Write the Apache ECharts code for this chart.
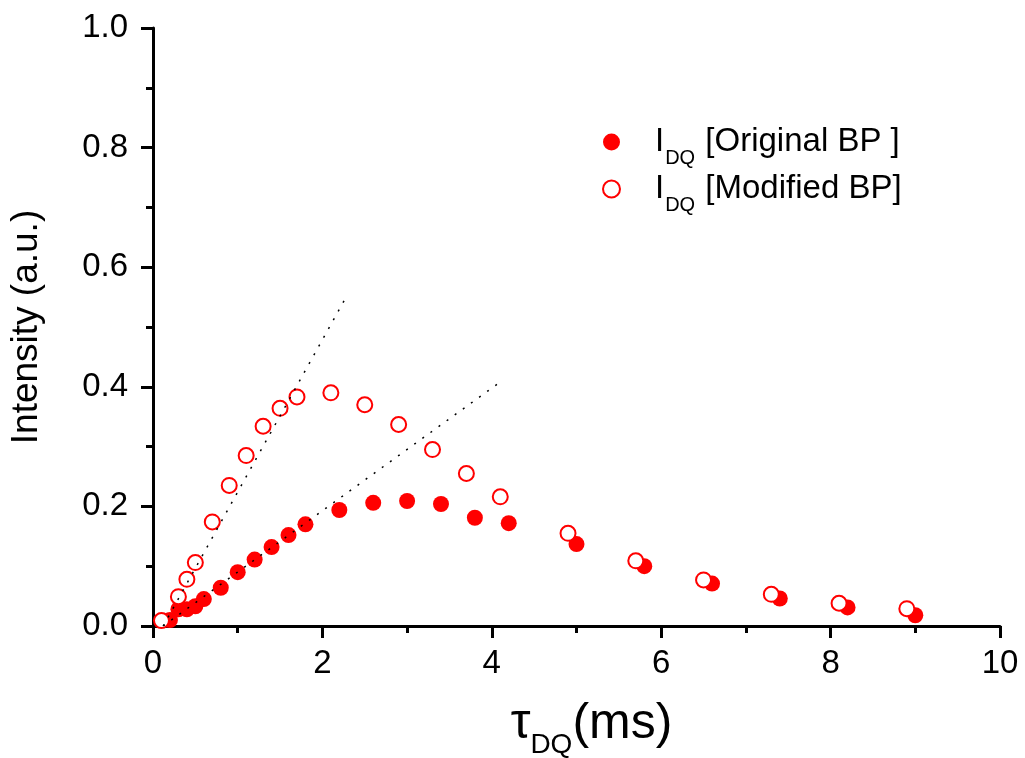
<!DOCTYPE html>
<html>
<head>
<meta charset="utf-8">
<script src="https://cdn.jsdelivr.net/npm/echarts@6/dist/echarts.min.js"></script>
<style>
html,body{margin:0;padding:0;background:#fff;}
#chart{width:1025px;height:758px;}
</style>
</head>
<body>
<div id="chart"></div>
<script>
// Data
var filledX = [0.2,0.3,0.4,0.5,0.6,0.8,1.0,1.2,1.4,1.6,1.8,2.2,2.6,3.0,3.4,3.8,4.2,5.0,5.8,6.6,7.4,8.2,9.0];
var filledY = [0.010,0.028,0.028,0.033,0.045,0.064,0.090,0.111,0.132,0.152,0.170,0.194,0.206,0.209,0.204,0.181,0.172,0.137,0.100,0.071,0.046,0.031,0.018];
var openX = [0.1,0.3,0.4,0.5,0.7,0.9,1.1,1.3,1.5,1.7,2.1,2.5,2.9,3.3,3.7,4.1,4.9,5.7,6.5,7.3,8.1,8.9];
var openY = [0.009,0.049,0.078,0.106,0.174,0.235,0.285,0.334,0.364,0.383,0.390,0.370,0.337,0.295,0.255,0.216,0.155,0.109,0.077,0.053,0.038,0.029];
var fit1X = [0.12, 2.28];
var fit1Y = [0.0, 0.55];
var fit2X = [0.12, 4.07];
var fit2Y = [0.0, 0.405];
var seriesNames = ['I_DQ [Original BP ]', 'I_DQ [Modified BP]'];
var xTitle = {tau: 'τ', sub: 'DQ', unit: '(ms)'};
var yTitle = 'Intensity (a.u.)';

function zip(xs, ys){ return xs.map(function(x,i){ return [x, ys[i]]; }); }

var FONT = 'Arial, "Liberation Sans", Helvetica, sans-serif';
var chart = echarts.init(document.getElementById('chart'));
var axisCommon = {
  axisLine: {show: true, onZero: false, lineStyle: {color: '#000', width: 3}},
  axisTick: {show: true, inside: false, length: 12, lineStyle: {color: '#000', width: 3}},
  minorTick: {show: true, splitNumber: 2, length: 7, lineStyle: {color: '#000', width: 3}},
  splitLine: {show: false},
  minorSplitLine: {show: false}
};
var option = {
  backgroundColor: '#fff',
  animation: false,
  grid: {left: 153, right: 25, top: 28, bottom: 132, containLabel: false, outerBoundsMode: 'none'},
  legend: {
    orient: 'vertical',
    left: 597,
    top: 120,
    itemGap: 4,
    itemWidth: 17,
    itemHeight: 17,
    data: [
      {name: seriesNames[0], icon: 'circle'},
      {name: seriesNames[1], icon: 'circle'}
    ],
    formatter: function(name){
      var rest = name.replace('I_DQ ', '');
      return '{m|I}{s|DQ}{m| ' + rest + '}';
    },
    textStyle: {
      padding: [0,0,0,30],
      rich: {
        m: {fontFamily: FONT, fontSize: 33, color: '#000', lineHeight: 34, verticalAlign: 'top'},
        s: {fontFamily: FONT, fontSize: 20, color: '#000', lineHeight: 20, verticalAlign: 'top', padding: [23,1,0,1]}
      }
    }
  },
  xAxis: Object.assign({
    type: 'value', min: 0, max: 10, interval: 2,
    axisLabel: {fontFamily: FONT, fontSize: 33, color: '#000', margin: 21},
    name: '{t|' + xTitle.tau + '}{s|' + xTitle.sub + '}{m|' + xTitle.unit + '}',
    nameLocation: 'middle',
    nameGap: 73,
    nameTextStyle: {
      padding: [0,0,0,30],
      rich: {
        t: {fontFamily: FONT, fontSize: 50, color: '#000', lineHeight: 52, verticalAlign: 'top'},
        s: {fontFamily: FONT, fontSize: 28, color: '#000', lineHeight: 28, verticalAlign: 'top', padding: [32,0,0,0]},
        m: {fontFamily: FONT, fontSize: 50, color: '#000', lineHeight: 52, verticalAlign: 'top'}
      }
    }
  }, axisCommon),
  yAxis: Object.assign({
    type: 'value', min: 0, max: 1, interval: 0.2,
    axisLabel: {fontFamily: FONT, fontSize: 33, color: '#000', margin: 25,
      formatter: function(v){ return v.toFixed(1); }},
    name: yTitle,
    nameLocation: 'middle',
    nameRotate: 90,
    nameGap: 108,
    nameTextStyle: {fontFamily: FONT, fontSize: 37, color: '#000'}
  }, axisCommon),
  series: [
    {
      name: seriesNames[0], type: 'scatter', symbol: 'circle', symbolSize: 16,
      itemStyle: {color: '#ff0000', opacity: 1},
      data: zip(filledX, filledY), z: 2
    },
    {
      name: seriesNames[1], type: 'scatter', symbol: 'circle', symbolSize: 15,
      itemStyle: {color: '#ffffff', borderColor: '#ff0000', borderWidth: 2, opacity: 1},
      data: zip(openX, openY), z: 3
    },
    {
      type: 'line', data: zip(fit1X, fit1Y), showSymbol: false, symbol: 'none', z: 4,
      lineStyle: {color: '#000', width: 1.5, type: [2, 8]}, silent: true
    },
    {
      type: 'line', data: zip(fit2X, fit2Y), showSymbol: false, symbol: 'none', z: 4,
      lineStyle: {color: '#000', width: 1.5, type: [2, 8]}, silent: true
    }
  ]
};
chart.setOption(option);
</script>
</body>
</html>
